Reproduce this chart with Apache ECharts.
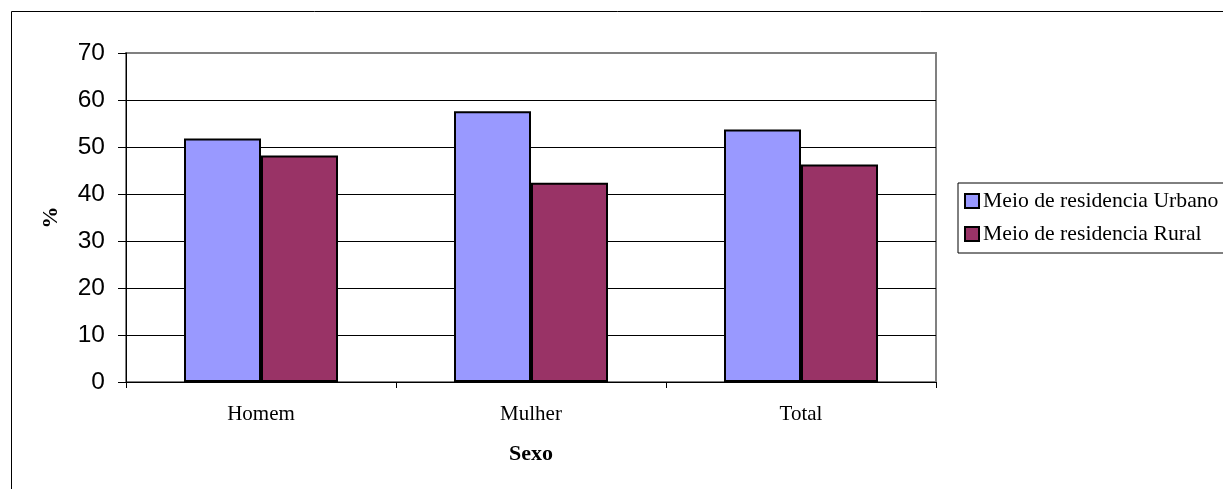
<!DOCTYPE html>
<html>
<head>
<meta charset="utf-8">
<script src="https://cdn.jsdelivr.net/npm/echarts@6/dist/echarts.min.js"></script>
<style>
html,body{margin:0;padding:0;background:#fff;}
#chart{width:1223px;height:489px;}
</style>
</head>
<body>
<div id="chart"></div>
<script>
var categories = ['Homem', 'Mulher', 'Total'];
var urbano = [51.8, 57.6, 53.7];
var rural = [48.2, 42.4, 46.3];
var seriesNames = ['Meio de residencia Urbano', 'Meio de residencia Rural'];
var yTicks = [0, 10, 20, 30, 40, 50, 60, 70];

var serif = 'Liberation Serif, Times New Roman, serif';
var sans = 'Liberation Sans, Arial, sans-serif';

var chart = echarts.init(document.getElementById('chart'), null, {renderer: 'canvas'});
chart.setOption({
  animation: false,
  backgroundColor: '#fff',
  graphic: [{
    type: 'rect', left: 9, top: 9, z: -1,
    shape: {width: 1400, height: 700},
    style: {fill: 'none', stroke: '#000', lineWidth: 1}
  }],
  grid: {
    left: 126, right: 287, top: 53, bottom: 107,
    show: true, borderColor: '#808080', borderWidth: 2, backgroundColor: '#fff'
  },
  legend: {
    orient: 'vertical', left: 958, top: 183,
    padding: [6, 20, 7, 6], itemGap: 9,
    itemWidth: 14, itemHeight: 14,
    borderColor: '#000', borderWidth: 1, backgroundColor: '#fff',
    icon: 'rect',
    textStyle: {fontFamily: serif, fontSize: 21.7, color: '#000', lineHeight: 24, padding: [0, 0, 0, -1]},
    data: seriesNames
  },
  xAxis: {
    type: 'category', data: categories,
    name: 'Sexo', nameLocation: 'middle', nameGap: 61,
    nameTextStyle: {fontFamily: serif, fontSize: 22, fontWeight: 'bold', color: '#000'},
    axisLine: {lineStyle: {color: '#000', width: 1}},
    axisTick: {show: true, alignWithLabel: false, length: 6, lineStyle: {color: '#000'}},
    axisLabel: {fontFamily: serif, fontSize: 21, color: '#000', margin: 22}
  },
  yAxis: {
    type: 'value', min: yTicks[0], max: yTicks[yTicks.length - 1], interval: 10,
    name: '%', nameLocation: 'middle', nameGap: 64, nameRotate: 90,
    nameTextStyle: {fontFamily: serif, fontSize: 22, fontWeight: 'bold', color: '#000'},
    axisLine: {show: true, lineStyle: {color: '#000', width: 1}},
    axisTick: {show: true, length: 8, lineStyle: {color: '#000'}},
    axisLabel: {fontFamily: sans, fontSize: 24.5, color: '#000', margin: 21},
    splitLine: {show: true, lineStyle: {color: ['#000', '#000', '#000', '#000', '#000', '#000', '#000', '#808080'], width: 1}}
  },
  series: [
    {
      name: seriesNames[0], type: 'bar', data: urbano,
      barWidth: 77, barGap: '0%',
      itemStyle: {color: '#9999FF', borderColor: '#000', borderWidth: 2}
    },
    {
      name: seriesNames[1], type: 'bar', data: rural,
      barWidth: 77, barGap: '0%',
      itemStyle: {color: '#993366', borderColor: '#000', borderWidth: 2}
    }
  ]
});
</script>
</body>
</html>
